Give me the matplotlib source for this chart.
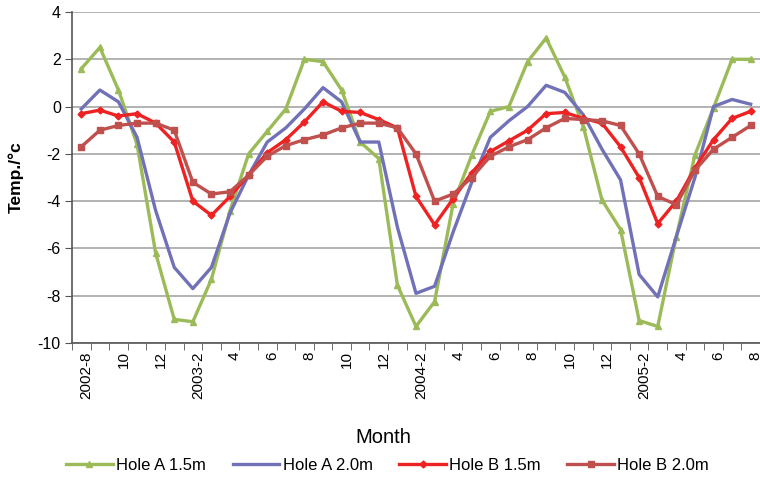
# Ground temperature at two holes, monthly, 2002-8 to 2005-8

import numpy as np
import matplotlib
matplotlib.use("Agg")
import matplotlib.pyplot as plt
import matplotlib.transforms as mtransforms

plt.rcParams['font.family'] = ['Liberation Sans', 'DejaVu Sans']
plt.rcParams['axes.unicode_minus'] = False

# months 2002-8 .. 2005-8 (37 months)
tick_labels = ["2002-8", "10", "12", "2003-2", "4", "6", "8", "10", "12",
               "2004-2", "4", "6", "8", "10", "12", "2005-2", "4", "6", "8"]

hole_a_15 = [1.6, 2.5, 0.7, -1.6, -6.2, -9.0, -9.1, -7.3, -4.4, -2.0,
             -1.05, -0.1, 2.0, 1.9, 0.7, -1.5, -2.2, -7.55, -9.3, -8.25,
             -4.1, -2.05, -0.2, 0.0, 1.9, 2.9, 1.25, -0.85, -3.95, -5.2,
             -9.05, -9.3, -5.5, -2.05, -0.05, 2.0, 2.0]
hole_a_20 = [-0.1, 0.7, 0.2, -1.3, -4.4, -6.8, -7.7, -6.8, -4.5, -2.9,
             -1.5, -0.9, -0.1, 0.8, 0.2, -1.5, -1.5, -5.1, -7.9, -7.6,
             -5.3, -3.2, -1.3, -0.6, 0.0, 0.9, 0.6, -0.35, -1.8, -3.1,
             -7.1, -8.05, -5.5, -3.0, 0.0, 0.3, 0.1]
hole_b_15 = [-0.3, -0.15, -0.4, -0.3, -0.7, -1.5, -4.0, -4.6, -3.8, -2.9,
             -1.95, -1.4, -0.65, 0.2, -0.2, -0.25, -0.55, -0.9, -3.8, -5.0,
             -3.9, -2.8, -1.9, -1.45, -1.0, -0.3, -0.25, -0.5, -0.7, -1.7,
             -3.0, -4.95, -4.0, -2.6, -1.4, -0.5, -0.2]
hole_b_20 = [-1.7, -1.0, -0.8, -0.7, -0.7, -1.0, -3.2, -3.7, -3.6, -2.9,
             -2.1, -1.65, -1.4, -1.2, -0.9, -0.7, -0.7, -0.9, -2.0, -4.0,
             -3.7, -3.0, -2.1, -1.7, -1.4, -0.9, -0.5, -0.55, -0.6, -0.8,
             -2.0, -3.8, -4.15, -2.7, -1.8, -1.3, -0.8]

x = np.arange(len(hole_a_15))

fig = plt.figure(figsize=(7.6, 4.8), dpi=100)
ax = fig.add_axes([0.0947, 0.2854, 0.9053, 0.6896])

ax.plot(x, hole_a_15, color="#9BBB59", lw=2.4, marker="^", ms=5, label="Hole A 1.5m")
ax.plot(x, hole_a_20, color="#7171B8", lw=2.4, label="Hole A 2.0m")
ax.plot(x, hole_b_15, color="#EE2222", lw=2.4, marker="D", ms=3.5, label="Hole B 1.5m")
ax.plot(x, hole_b_20, color="#C0504D", lw=2.4, marker="s", ms=4, label="Hole B 2.0m")

ax.set_xlim(-0.5, len(x) - 0.5)
ax.set_ylim(-10, 4)
ax.set_yticks(np.arange(-10, 5, 2))
ax.yaxis.grid(True, color="#A6A6A6", lw=1.2)
ax.set_axisbelow(True)
ax.tick_params(axis="y", labelsize=11.5, length=5, color="#555555", pad=3)

# category axis: ticks at boundaries, labels in the middle
ax.set_xticks(np.arange(-0.5, len(x), 1), minor=True)
ax.set_xticks(x[::2])
ax.set_xticklabels(tick_labels, rotation=90, fontsize=11)
ax.tick_params(axis="x", which="major", length=0, pad=6)
ax.tick_params(axis="x", which="minor", length=5, color="#555555")
offset = mtransforms.ScaledTranslation(5 / 100, 0, fig.dpi_scale_trans)
for lbl in ax.get_xticklabels():
    lbl.set_transform(lbl.get_transform() + offset)

for s in ["top", "right"]:
    ax.spines[s].set_visible(False)
ax.spines["left"].set_color("#555555")
ax.spines["bottom"].set_color("#555555")
ax.spines["left"].set_linewidth(1.2)
ax.spines["bottom"].set_linewidth(1.2)

ax.set_ylabel("Temp./°c", fontsize=12.5, fontweight="bold", labelpad=10)
fig.text(0.504, 0.088, "Month", fontsize=14.5, ha="center", va="center")

fig.legend(loc="center", bbox_to_anchor=(0.51, 0.03), ncol=4, frameon=False,
           fontsize=12, handlelength=2.8, handletextpad=0.2, columnspacing=1.6)

fig.savefig("out.png", dpi=100)
